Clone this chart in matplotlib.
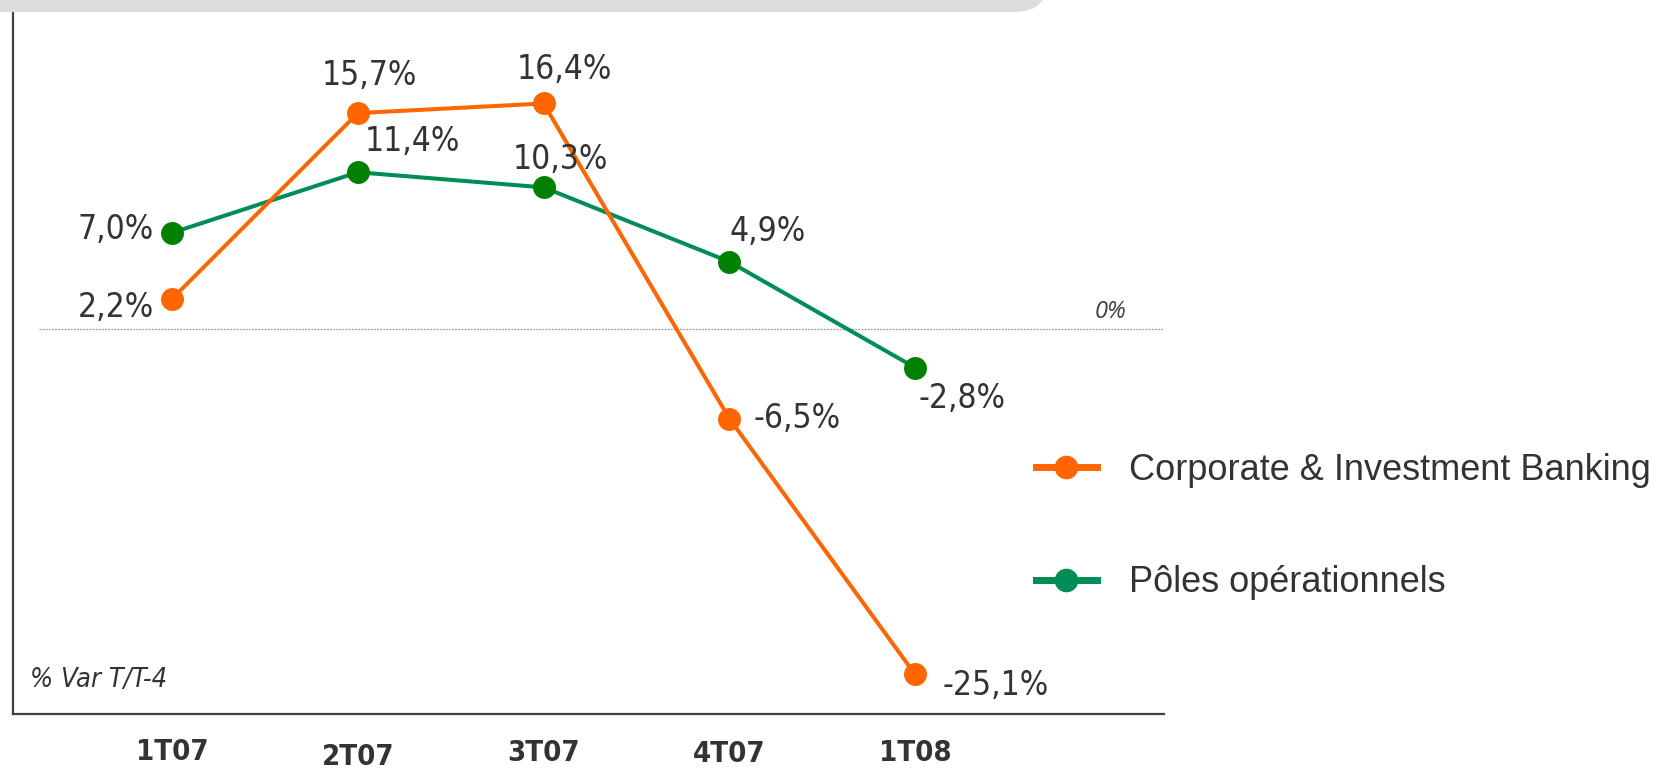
import matplotlib
matplotlib.use("Agg")
import matplotlib.pyplot as plt
from matplotlib.lines import Line2D
from matplotlib.patches import FancyBboxPatch

# data
quarters = ["1T07", "2T07", "3T07", "4T07", "1T08"]
cib = [2.2, 15.7, 16.4, -6.5, -25.1]
poles = [7.0, 11.4, 10.3, 4.9, -2.8]
cib_labels = ["2,2%", "15,7%", "16,4%", "-6,5%", "-25,1%"]
poles_labels = ["7,0%", "11,4%", "10,3%", "4,9%", "-2,8%"]
series_names = ["Corporate & Investment Banking", "Pôles opérationnels"]

ORANGE = "#ff6600"
GREEN_LINE = "#008c55"
GREEN_DOT = "#008000"
TXT = "#333333"
NARROW = "DejaVu Sans"

W, H = 1666, 768
fig = plt.figure(figsize=(W / 100, H / 100), dpi=100)

# gray header band with rounded right corner
band = FancyBboxPatch((-60 / W, (H - 12) / H), 1108 / W, 80 / H,
                      boxstyle="round,pad=0,rounding_size=0.02",
                      transform=fig.transFigure, facecolor="#dcdcdc",
                      edgecolor="none", mutation_aspect=W / H)
fig.patches.append(band)

ax = fig.add_axes([13 / W, (H - 714) / H, (1164 - 13) / W, (714 - 12) / H])
ax.set_xlim(-0.856, 5.34)
ax.set_ylim(-27.98, 23.05)

for s in ["top", "right"]:
    ax.spines[s].set_visible(False)
for s in ["left", "bottom"]:
    ax.spines[s].set_color("#404040")
    ax.spines[s].set_linewidth(1.6)
ax.set_xticks([])
ax.set_yticks([])

# zero line
ax.axhline(0, xmin=0.0226, xmax=1, color="#9a9a9a", lw=0.9, ls=(0, (1.5, 1)))
ax.annotate("0%", xy=(1, 0), xycoords=("axes fraction", "data"),
            xytext=(-54, 17), textcoords="offset pixels", ha="center", va="center",
            fontsize=17, style="italic", family="Open Sans", color="#404040")

x = list(range(len(quarters)))
ax.plot(x, poles, color=GREEN_LINE, lw=2.9, marker="o", ms=15.5,
        mfc=GREEN_DOT, mec=GREEN_DOT, zorder=3)
ax.plot(x, cib, color=ORANGE, lw=2.9, marker="o", ms=15.5,
        mfc=ORANGE, mec=ORANGE, zorder=4)

# data labels: (dx, dy, ha) in pixels
cib_off = [(-18, -9, "right"), (12, 38, "center"), (21, 34, "center"),
           (24, 0, "left"), (27, -11, "left")]
poles_off = [(-18, 3, "right"), (55, 31, "center"), (17, 28, "center"),
             (38, 30, "center"), (3, -31, "left")]
for vals, labs, offs in [(cib, cib_labels, cib_off), (poles, poles_labels, poles_off)]:
    for i, (v, t, (dx, dy, ha)) in enumerate(zip(vals, labs, offs)):
        ax.annotate(t, xy=(i, v), xytext=(dx, dy), textcoords="offset pixels",
                    ha=ha, va="center", fontsize=24, family=NARROW,
                    fontstretch="condensed", color=TXT, zorder=5)

# category labels below axis (staggered like the original)
drops = [-38, -43, -39, -40, -39]
for i, (q, d) in enumerate(zip(quarters, drops)):
    ax.annotate(q, xy=(i, 0), xycoords=("data", "axes fraction"),
                xytext=(0, d), textcoords="offset pixels", ha="center", va="center",
                fontsize=21, fontweight="bold", family=NARROW,
                fontstretch="condensed", color=TXT, annotation_clip=False)

ax.annotate("% Var T/T-4", xy=(0, 0), xycoords="axes fraction",
            xytext=(17, 34), textcoords="offset pixels", ha="left", va="center",
            fontsize=19.5, style="italic", family=NARROW,
            fontstretch="condensed", color=TXT)

# legend
handles = [Line2D([], [], color=ORANGE, lw=5, marker="o", ms=16),
           Line2D([], [], color=GREEN_LINE, lw=5, marker="o", ms=16)]
fig.legend(handles, series_names, loc="upper left",
           bbox_to_anchor=(1003 / W, (H - 420) / H), frameon=False,
           prop={"family": "Liberation Sans", "size": 26},
           handlelength=1.7, handletextpad=0.9, labelspacing=2.15,
           labelcolor=TXT)

fig.savefig("out.png", dpi=100)
